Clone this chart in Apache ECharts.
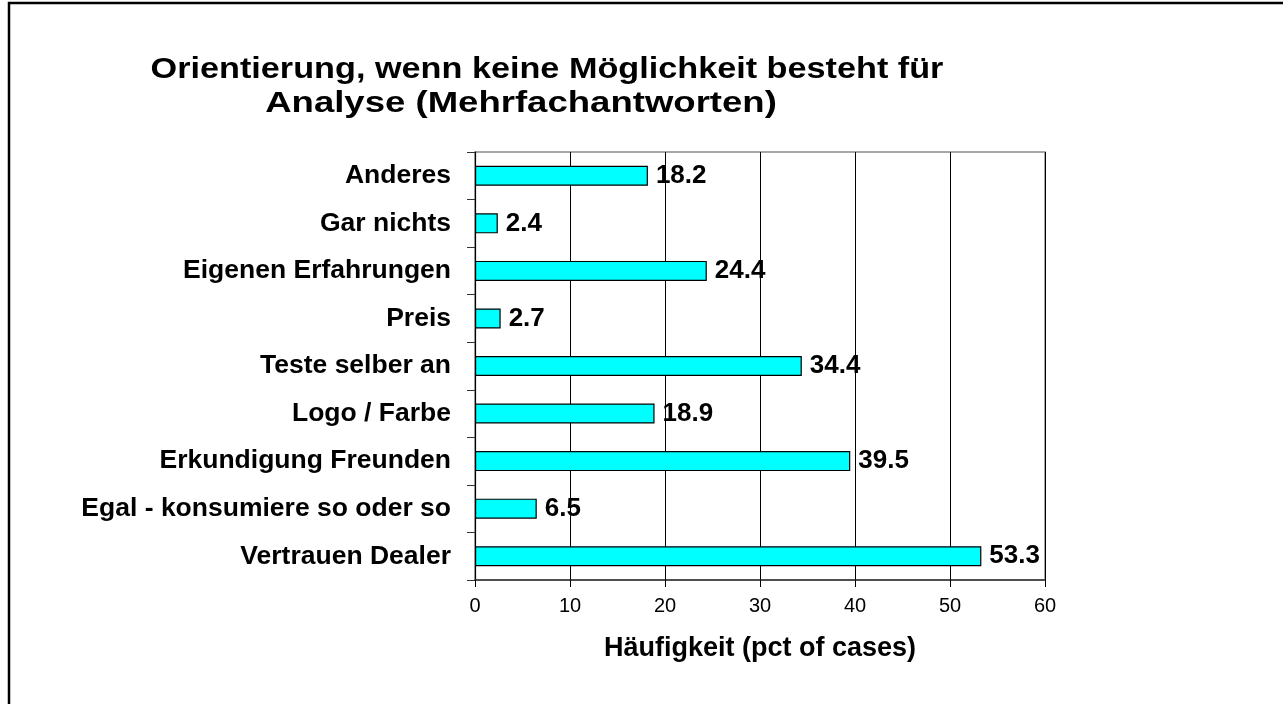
<!DOCTYPE html>
<html>
<head>
<meta charset="utf-8">
<script src="https://cdn.jsdelivr.net/npm/echarts@6/dist/echarts.min.js"></script>
<style>
  html, body { margin: 0; padding: 0; background: #fff; }
  #chart { width: 1283px; height: 704px; }
</style>
</head>
<body>
<div id="chart"></div>
<script>
const titleLines = ['Orientierung, wenn keine Möglichkeit besteht für', 'Analyse (Mehrfachantworten)'];
const categories = ['Anderes', 'Gar nichts', 'Eigenen Erfahrungen', 'Preis', 'Teste selber an', 'Logo / Farbe', 'Erkundigung Freunden', 'Egal - konsumiere so oder so', 'Vertrauen Dealer'];
const values = [18.2, 2.4, 24.4, 2.7, 34.4, 18.9, 39.5, 6.5, 53.3];
const xTicks = { min: 0, max: 60, interval: 10 };
const xAxisName = 'Häufigkeit (pct of cases)';

const FONT = '"Liberation Sans", Arial, Helvetica, sans-serif';
const chart = echarts.init(document.getElementById('chart'));
chart.setOption({
  backgroundColor: '#fff',
  animation: false,
  textStyle: { fontFamily: FONT, color: '#000' },
  graphic: [
    { type: 'rect', silent: true, shape: { x: 9, y: 3, width: 1400, height: 800 },
      style: { fill: 'none', stroke: '#000', lineWidth: 2.5 } },
    { type: 'text', x: 547, y: 70, scaleX: 1.18, silent: true,
      style: { text: titleLines[0], fontFamily: FONT, fontSize: 29, fontWeight: 'bold', fill: '#000', align: 'center', verticalAlign: 'middle' } },
    { type: 'text', x: 521, y: 104, scaleX: 1.26, silent: true,
      style: { text: titleLines[1], fontFamily: FONT, fontSize: 29, fontWeight: 'bold', fill: '#000', align: 'center', verticalAlign: 'middle' } }
  ],
  grid: { left: 475, right: 238, top: 152, bottom: 124, show: true, borderColor: '#8a8a8a', borderWidth: 1.5, backgroundColor: 'transparent' },
  xAxis: {
    type: 'value', min: xTicks.min, max: xTicks.max, interval: xTicks.interval,
    name: xAxisName, nameLocation: 'middle', nameGap: 55,
    nameTextStyle: { fontFamily: FONT, fontSize: 27, fontWeight: 'bold', color: '#000' },
    axisLine: { show: true, lineStyle: { color: '#333', width: 1.5 } },
    axisTick: { show: true, length: 7, lineStyle: { color: '#000', width: 1 } },
    axisLabel: { fontFamily: FONT, fontSize: 20, color: '#000', margin: 16 },
    splitLine: { show: true, lineStyle: { color: '#000', width: 1 } }
  },
  yAxis: {
    type: 'category', data: categories, inverse: true,
    axisLine: { show: true, lineStyle: { color: '#000', width: 1.2 } },
    axisTick: { show: true, length: 8, alignWithLabel: false, interval: 0, lineStyle: { color: '#333', width: 1 } },
    axisLabel: { fontFamily: FONT, fontSize: 26.5, fontWeight: 'bold', color: '#000', margin: 24, interval: 0 },
    splitLine: { show: false }
  },
  series: [{
    type: 'bar', data: values, barWidth: 20,
    itemStyle: { color: '#00ffff', borderColor: '#000', borderWidth: 1.2 },
    label: { show: true, position: 'right', distance: 8, fontFamily: FONT, fontSize: 26, fontWeight: 'bold', color: '#000',
      formatter: p => p.value.toFixed(1) }
  }]
});
</script>
</body>
</html>
